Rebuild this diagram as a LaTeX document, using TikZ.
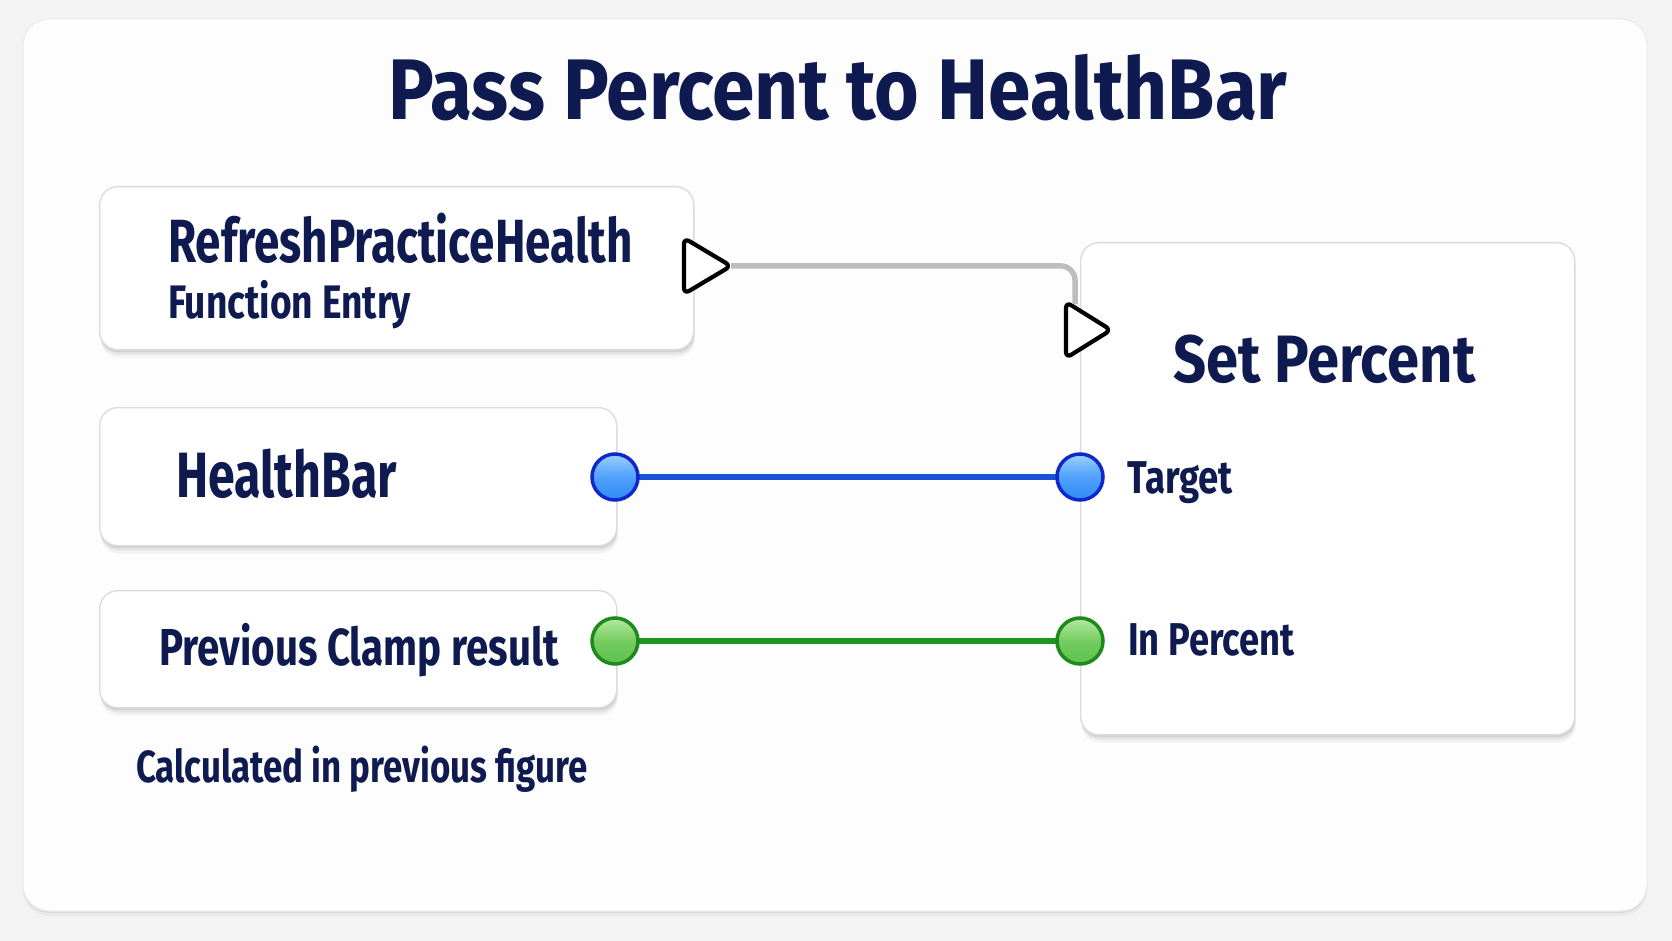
\documentclass[tikz,border=0pt]{standalone}
\usepackage{fontspec}
\setmainfont{Fira Sans}[FakeStretch=0.82]
\newfontfamily\titlefont{Fira Sans}[FakeStretch=0.89]
\newcommand\stretchto[1]{\addfontfeatures{FakeStretch=#1}}
\usetikzlibrary{shadows}
\definecolor{navy}{HTML}{0F1B50}
\definecolor{bgc}{HTML}{F3F3F4}
\definecolor{cardc}{HTML}{FDFDFD}
\definecolor{boxedge}{HTML}{DCDCDE}
\definecolor{wiregray}{HTML}{BDBDBD}
\definecolor{wireblue}{HTML}{1A52D8}
\definecolor{pinblueedge}{HTML}{1028C8}
\definecolor{pinbluetop}{HTML}{9CD0FF}
\definecolor{pinbluebot}{HTML}{2F8CFA}
\definecolor{wiregreen}{HTML}{1E9620}
\definecolor{pingreenedge}{HTML}{1C8A1C}
\definecolor{pingreentop}{HTML}{B4EAA0}
\definecolor{pingreenbot}{HTML}{5FC24A}
\tikzset{
  card/.style={rounded corners=26pt, fill=cardc, draw=boxedge!60, line width=1pt,
    drop shadow={shadow xshift=0pt, shadow yshift=-5pt, opacity=0.04, fill=black},
    drop shadow={shadow xshift=0pt, shadow yshift=-2pt, opacity=0.06, fill=black}},
  nodebox/.style={draw=boxedge, line width=1.4pt, fill=white, rounded corners=18pt,
    anchor=north west, inner sep=0pt,
    drop shadow={shadow xshift=1pt, shadow yshift=-8pt, opacity=0.04, fill=black},
    drop shadow={shadow xshift=1pt, shadow yshift=-5pt, opacity=0.06, fill=black},
    drop shadow={shadow xshift=0.5pt, shadow yshift=-2.5pt, opacity=0.08, fill=black}},
  lbl/.style={text=navy, font=\bfseries, anchor=base west, inner sep=0pt},
  execpin/.style={draw=black, line width=4.2pt, fill=white, rounded corners=6pt, line join=round},
  wire/.style={draw=wiregray, line width=5.5pt, rounded corners=14pt},
  bluewire/.style={draw=wireblue, line width=5.5pt},
  greenwire/.style={draw=wiregreen, line width=5.5pt},
  bluepin/.style={circle, minimum size=46pt, inner sep=0pt, draw=pinblueedge, line width=3.5pt,
    top color=pinbluetop, bottom color=pinbluebot, middle color=pinbluebot!70!pinbluetop},
  greenpin/.style={circle, minimum size=46pt, inner sep=0pt, draw=pingreenedge, line width=3.5pt,
    top color=pingreentop, bottom color=pingreenbot, middle color=pingreenbot!75!pingreentop},
}
\begin{document}
\begin{tikzpicture}[x=1pt,y=-1pt]
\fill[bgc] (0,0) rectangle (1672,941);
\useasboundingbox (0,0) rectangle (1672,941);
% card
\path[card] (23,19) rectangle (1647,911);
% title
\node[text=navy, inner sep=0pt, anchor=base, font=\titlefont\bfseries\fontsize{86}{90}\selectfont] (title) at (838,120) {Pass Percent to HealthBar};
% boxes
\node[nodebox, minimum width=594pt, minimum height=163pt] (entry) at (99,186) {};
\node[nodebox, minimum width=517pt, minimum height=138pt] (hbbox) at (99,407) {};
\node[nodebox, minimum width=517pt, minimum height=117pt] (clampbox) at (99,590) {};
\node[nodebox, minimum width=494pt, minimum height=492pt] (setbox) at (1080,242) {};
% texts
\node[lbl, font=\bfseries\fontsize{61}{66}\selectfont\stretchto{0.75}] (entrytitle) at (168,262) {RefreshPracticeHealth};
\node[lbl, font=\bfseries\fontsize{47}{50}\selectfont\stretchto{0.79}] (entrysub) at (168,318) {Function Entry};
\node[lbl, font=\bfseries\fontsize{64}{68}\selectfont\stretchto{0.755}] (hbtext) at (176,497) {HealthBar};
\node[lbl, font=\bfseries\fontsize{52}{56}\selectfont\stretchto{0.775}] (clamptext) at (159,665) {Previous Clamp result};
\node[lbl, font=\bfseries\fontsize{45}{48}\selectfont\stretchto{0.775}] (calcnote) at (136,782) {Calculated in previous figure};
\node[lbl, font=\bfseries\fontsize{67}{70}\selectfont\stretchto{0.865}] (settitle) at (1173,382) {Set Percent};
\node[lbl, font=\bfseries\fontsize{46}{50}\selectfont\stretchto{0.795}] (targettext) at (1127,493) {Target};
\node[lbl, font=\bfseries\fontsize{46}{50}\selectfont\stretchto{0.79}] (pcttext) at (1128,655) {In Percent};
% exec pins
\path[execpin] (684,238) -- (731,266) -- (684,294) -- cycle;
\coordinate (execout) at (731,266);
\path[execpin] (1066,302) -- (1111,330) -- (1066,358) -- cycle;
\coordinate (execin) at (1075,304);
% exec wire
\draw[wire] (execout) -| (execin);
% data wires
\coordinate (hbpos) at (615,477);
\coordinate (tgpos) at (1080,477);
\coordinate (clpos) at (615,641);
\coordinate (pcpos) at (1080,641);
\draw[bluewire] (hbpos) -- (tgpos);
\draw[greenwire] (clpos) -- (pcpos);
\node[bluepin] (hbpin) at (hbpos) {};
\node[bluepin] (tgpin) at (tgpos) {};
\node[greenpin] (clpin) at (clpos) {};
\node[greenpin] (pcpin) at (pcpos) {};
\end{tikzpicture}
\end{document}
